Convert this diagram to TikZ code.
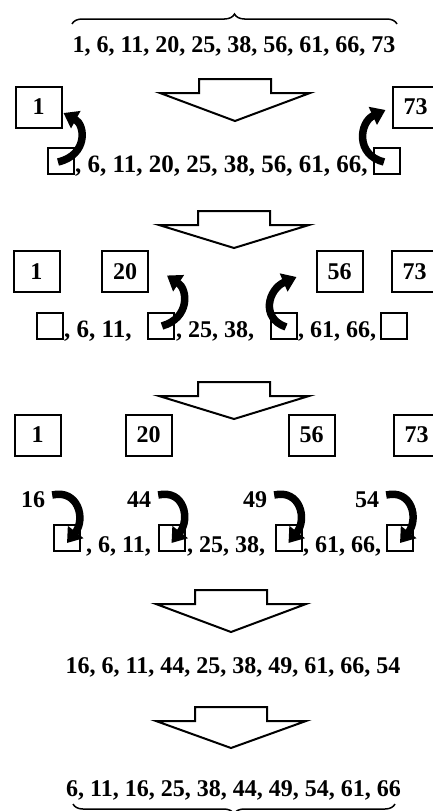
\documentclass[tikz,border=0pt]{standalone}
\usepackage{fontspec}
\setmainfont{Liberation Serif}
\usetikzlibrary{arrows.meta,decorations.pathreplacing,calc}

\tikzset{
  num/.style={font=\fontsize{24}{28}\selectfont\bfseries, inner sep=0pt},
  bignum/.style={num, font=\fontsize{25}{29}\selectfont\bfseries},
  bigbox/.style={num, draw, line width=2pt, minimum width=46pt, minimum height=41pt},
  slot/.style={draw, line width=2pt, minimum width=26pt, minimum height=26pt, inner sep=0pt},
  hook/.style={line width=7.5pt, -{Triangle[length=14pt,width=19pt]}},
  listbrace/.style={decorate, decoration={brace, amplitude=10pt}, line width=1.5pt},
  blockarrow/.style={draw, line width=2pt, fill=white, miter limit=10}
}

% hollow down arrow: centre x, top y, depth of the head below the shoulder
\newcommand\blockarrow[3]{%
  \draw[blockarrow] (#1-36,#2) -- (#1+36,#2) -- (#1+36,#2+14) -- (#1+75,#2+14)
    -- (#1,#2+14+#3) -- (#1-75,#2+14) -- (#1-36,#2+14) -- cycle;}

\begin{document}
\begin{tikzpicture}[x=1pt,y=-1pt]
\useasboundingbox (0,0) rectangle (433,811);

% input list
\coordinate (tbl) at (72,24);
\coordinate (tbr) at (397,24);
\draw[listbrace] (tbl) -- (tbr);
\node[num, anchor=base] (input) at (234,52) {1, 6, 11, 20, 25, 38, 56, 61, 66, 73};

\blockarrow{235}{79}{28}

% step 1: first and last element taken out
\node[bigbox] (a1) at (38.5,107) {1};
\node[bigbox] (a73) at (415.5,107) {73};
\node[slot] (a1s) at (60.5,160.5) {};
\node[slot] (a73s) at (387,160.5) {};
\node[bignum, anchor=base west] (alist) at (75,172) {, 6, 11, 20, 25, 38, 56, 61, 66,};
\draw[hook] ($(a1s.center)+(-2.5,1.5)$) .. controls +(30,-7) and +(22,12) .. ($(a1.east)+(1,6)$);
\draw[hook] ($(a73s.center)+(-3,1.5)$) .. controls +(-29,-7) and +(-26,12) .. ($(a73.west)+(-6,3)$);

\blockarrow{234}{211}{23}

% step 2: two more pivots taken out
\node[bigbox] (b1) at (36.5,271.5) {1};
\node[bigbox] (b20) at (125,271.5) {20};
\node[bigbox] (b56) at (339.5,271.5) {56};
\node[bigbox] (b73) at (414.5,271.5) {73};
\node[slot] (bs1) at (49.5,325.5) {};
\node[slot] (bs20) at (160.5,325.5) {};
\node[slot] (bs56) at (284,325.5) {};
\node[slot] (bs73) at (394,325.5) {};
\node[bignum, anchor=base west] (bl1) at (64,337) {, 6, 11,};
\node[num, anchor=base west] (bl2) at (176,337) {, 25, 38,};
\node[num, anchor=base west] (bl3) at (298,337) {, 61, 66,};
\draw[hook] ($(bs20.center)+(1.5,0.5)$) .. controls +(28,-8) and +(21,14) .. ($(b20.east)+(18,4)$);
\draw[hook] ($(bs56.center)+(2,1.5)$) .. controls +(-26,-9) and +(-28,12) .. ($(b56.west)+(-19,5.5)$);

\blockarrow{234}{382}{23}

% step 3: pivots set aside, new values filled in
\node[bigbox] (e1) at (37.5,435) {1};
\node[bigbox] (e20) at (148.5,435) {20};
\node[bigbox] (e56) at (311.5,435) {56};
\node[bigbox] (e73) at (416.5,435) {73};

\node[num] (n16) at (33,500) {16};
\node[num] (n44) at (139,500) {44};
\node[num] (n49) at (255,500) {49};
\node[num] (n54) at (367,500) {54};
\node[slot] (f16) at (67,538) {};
\node[slot] (f44) at (171.5,538) {};
\node[slot] (f49) at (288.5,538) {};
\node[slot] (f54) at (400,538) {};
\node[num, anchor=base west] (fl1) at (86,552) {, 6, 11,};
\node[num, anchor=base west] (fl2) at (187,552) {, 25, 38,};
\node[num, anchor=base west] (fl3) at (303,552) {, 61, 66,};
\foreach \v in {16,44,49,54}
  \draw[hook] ($(n\v.east)+(7,-5)$) .. controls +(26,-6) and +(19,-24) .. ($(f\v.center)+(0,5)$);

\blockarrow{231}{590}{28}

\node[num, anchor=base] (mixed) at (233,673) {16, 6, 11, 44, 25, 38, 49, 61, 66, 54};

\blockarrow{231}{707}{27}

% sorted output
\node[num, anchor=base] (output) at (233.5,796) {6, 11, 16, 25, 38, 44, 49, 54, 61, 66};
\coordinate (bbl) at (73,804);
\coordinate (bbr) at (395,804);
\draw[listbrace] (bbr) -- (bbl);
\end{tikzpicture}
\end{document}
